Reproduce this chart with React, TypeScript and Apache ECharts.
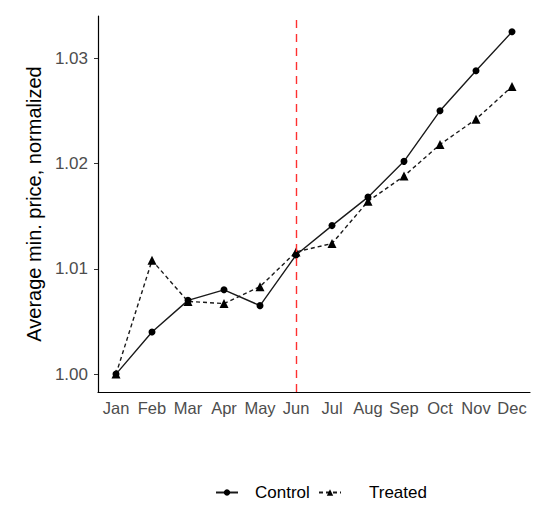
import React, { useEffect, useRef } from "react";
import * as echarts from "echarts";

const months = ["Jan", "Feb", "Mar", "Apr", "May", "Jun", "Jul", "Aug", "Sep", "Oct", "Nov", "Dec"];
const controlValues = [1.0, 1.004, 1.007, 1.008, 1.0065, 1.0113, 1.0141, 1.0168, 1.0202, 1.025, 1.0288, 1.0325];
const treatedValues = [1.0, 1.0108, 1.0069, 1.0067, 1.0083, 1.0116, 1.0124, 1.0164, 1.0188, 1.0218, 1.0242, 1.0273];
const yTicks = [1.0, 1.01, 1.02, 1.03];
const treatmentMonth = "Jun";

export default function App() {
  const ref = useRef<HTMLDivElement>(null);
  useEffect(() => {
    if (!ref.current) return;
    const chart = echarts.init(ref.current, null, { renderer: "svg" });
    const font = "Liberation Sans, Arial, sans-serif";
    const legendBase = {
      top: 484,
      padding: 0,
      itemWidth: 22,
      itemHeight: 8,
      orient: "horizontal",
    };
    chart.setOption({
      animation: false,
      backgroundColor: "#ffffff",
      grid: { left: 98, top: 16, width: 432, bottom: 113, containLabel: false },
      legend: [
        {
          ...legendBase,
          left: 215,
          data: ["Control"],
          textStyle: { fontFamily: font, fontSize: 17, color: "#000", padding: [0, 0, 0, 12] },
        },
        {
          ...legendBase,
          left: 318,
          data: ["Treated"],
          textStyle: { fontFamily: font, fontSize: 17, color: "#000", padding: [0, 0, 0, 23] },
        },
      ],
      xAxis: {
        type: "category",
        data: months,
        boundaryGap: true,
        axisLine: { lineStyle: { color: "#000", width: 1.2 } },
        axisTick: { alignWithLabel: true, length: 4, lineStyle: { color: "#333" } },
        axisLabel: { fontFamily: font, fontSize: 16.5, color: "#4d4d4d", margin: 7, interval: 0 },
        splitLine: { show: false },
      },
      yAxis: {
        type: "value",
        min: 0.9983,
        max: 1.034,
        name: "Average min. price, normalized",
        nameLocation: "middle",
        nameGap: 54,
        nameTextStyle: { fontFamily: font, fontSize: 20, color: "#000" },
        axisLine: { show: true, lineStyle: { color: "#000", width: 1.2 } },
        axisTick: { show: true, length: 4, customValues: yTicks, lineStyle: { color: "#333" } },
        axisLabel: {
          fontFamily: font,
          fontSize: 17,
          color: "#4d4d4d",
          margin: 10,
          customValues: yTicks,
          formatter: (v: number) => v.toFixed(2),
        },
        splitLine: { show: false },
      },
      series: [
        {
          name: "Control",
          type: "line",
          data: controlValues,
          symbol: "circle",
          symbolSize: 7,
          itemStyle: { color: "#000" },
          lineStyle: { color: "#1a1a1a", width: 1.4, type: "solid" },
          z: 3,
          markLine: {
            silent: true,
            symbol: "none",
            label: { show: false },
            lineStyle: { color: "#ff3030", type: [8, 6], width: 1.4 },
            data: [{ xAxis: treatmentMonth }],
          },
        },
        {
          name: "Treated",
          type: "line",
          data: treatedValues,
          symbol: "triangle",
          symbolSize: 9,
          itemStyle: { color: "#000" },
          lineStyle: { color: "#1a1a1a", width: 1.4, type: [4, 3] },
          z: 3,
        },
      ],
    });
    return () => chart.dispose();
  }, []);
  return (
    <div
      ref={ref}
      style={{ position: "absolute", left: 0, top: 0, width: 546, height: 505 }}
    />
  );
}
